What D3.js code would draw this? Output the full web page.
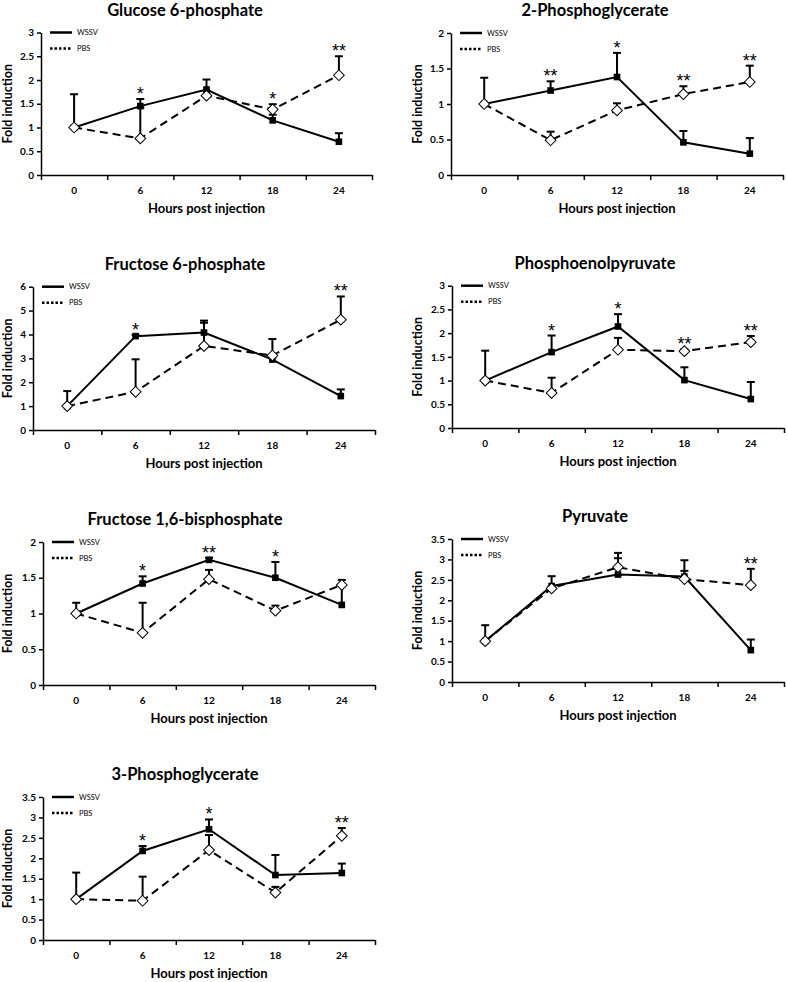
<!DOCTYPE html>
<html>
<head>
<meta charset="utf-8">
<script src="https://cdn.jsdelivr.net/npm/d3@7"></script>
<style>
  body { margin: 0; background: #fff; }
  svg { display: block; }
  text { font-family: Lato, "Open Sans", sans-serif; fill: #000; }
</style>
</head>
<body>
<svg id="chart" width="787" height="982"></svg>
<script>
// sampling times (hours post injection)
const hours = [0, 6, 12, 18, 24];

// Glucose 6-phosphate
const g6pWssv = [1.0, 1.45, 1.8, 1.15, 0.7];
const g6pWssvSd = [0.7, 0.15, 0.21, 0.12, 0.18];
const g6pPbs = [1.0, 0.77, 1.67, 1.38, 2.1];
const g6pPbsSd = [0, 0.65, 0.1, 0.11, 0.4];
const g6pStars = ['', '*', '', '*', '**'];

// 2-Phosphoglycerate
const pg2Wssv = [1.0, 1.19, 1.38, 0.46, 0.3];
const pg2WssvSd = [0.37, 0.13, 0.34, 0.16, 0.22];
const pg2Pbs = [1.0, 0.49, 0.91, 1.14, 1.31];
const pg2PbsSd = [0, 0.12, 0.1, 0.11, 0.23];
const pg2Stars = ['', '**', '*', '**', '**'];

// Fructose 6-phosphate
const f6pWssv = [1.0, 3.93, 4.08, 2.95, 1.42];
const f6pWssvSd = [0.63, 0.05, 0.5, 0.1, 0.28];
const f6pPbs = [1.0, 1.6, 3.52, 3.12, 4.62];
const f6pPbsSd = [0, 1.36, 0.97, 0.69, 0.97];
const f6pStars = ['', '*', '', '', '**'];

// Phosphoenolpyruvate
const pepWssv = [1.0, 1.6, 2.14, 1.01, 0.61];
const pepWssvSd = [0.63, 0.35, 0.26, 0.27, 0.36];
const pepPbs = [1.0, 0.74, 1.65, 1.62, 1.81];
const pepPbsSd = [0, 0.32, 0.25, 0.04, 0.13];
const pepStars = ['', '*', '*', '**', '**'];

// Fructose 1,6-bisphosphate
const fbpWssv = [1.0, 1.42, 1.75, 1.5, 1.12];
const fbpWssvSd = [0.15, 0.1, 0.03, 0.22, 0.28];
const fbpPbs = [1.0, 0.73, 1.48, 1.04, 1.4];
const fbpPbsSd = [0, 0.42, 0.13, 0.07, 0.07];
const fbpStars = ['', '*', '**', '*', ''];

// Pyruvate
const pyrWssv = [1.0, 2.35, 2.63, 2.58, 0.78];
const pyrWssvSd = [0.39, 0.24, 0.4, 0.4, 0.26];
const pyrPbs = [1.0, 2.29, 2.81, 2.52, 2.37];
const pyrPbsSd = [0, 0.05, 0.35, 0.2, 0.4];
const pyrStars = ['', '', '', '', '**'];

// 3-Phosphoglycerate
const pg3Wssv = [1.0, 2.18, 2.71, 1.59, 1.64];
const pg3WssvSd = [0.65, 0.12, 0.24, 0.49, 0.23];
const pg3Pbs = [1.0, 0.96, 2.2, 1.16, 2.55];
const pg3PbsSd = [0, 0.59, 0.37, 0.14, 0.19];
const pg3Stars = ['', '*', '*', '', '**'];

// panel layout (pixel boxes of each plot area)
const panels = [
  { title: 'Glucose 6-phosphate', wssv: g6pWssv, wssvSd: g6pWssvSd, pbs: g6pPbs, pbsSd: g6pPbsSd, stars: g6pStars,
    yMax: 3, yStep: 0.5, left: 41, right: 372, top: 32.5, bottom: 175, col: 0 },
  { title: '2-Phosphoglycerate', wssv: pg2Wssv, wssvSd: pg2WssvSd, pbs: pg2Pbs, pbsSd: pg2PbsSd, stars: pg2Stars,
    yMax: 2, yStep: 0.5, left: 451, right: 783, top: 33, bottom: 175, col: 1 },
  { title: 'Fructose 6-phosphate', wssv: f6pWssv, wssvSd: f6pWssvSd, pbs: f6pPbs, pbsSd: f6pPbsSd, stars: f6pStars,
    yMax: 6, yStep: 1, left: 33, right: 375, top: 286.7, bottom: 430, col: 0 },
  { title: 'Phosphoenolpyruvate', wssv: pepWssv, wssvSd: pepWssvSd, pbs: pepPbs, pbsSd: pepPbsSd, stars: pepStars,
    yMax: 3, yStep: 0.5, left: 452, right: 784, top: 285.7, bottom: 428, col: 1 },
  { title: 'Fructose 1,6-bisphosphate', wssv: fbpWssv, wssvSd: fbpWssvSd, pbs: fbpPbs, pbsSd: fbpPbsSd, stars: fbpStars,
    yMax: 2, yStep: 0.5, left: 43, right: 375, top: 542, bottom: 685, col: 0 },
  { title: 'Pyruvate', wssv: pyrWssv, wssvSd: pyrWssvSd, pbs: pyrPbs, pbsSd: pyrPbsSd, stars: pyrStars,
    yMax: 3.5, yStep: 0.5, left: 452, right: 784, top: 539, bottom: 682, col: 1 },
  { title: '3-Phosphoglycerate', wssv: pg3Wssv, wssvSd: pg3WssvSd, pbs: pg3Pbs, pbsSd: pg3PbsSd, stars: pg3Stars,
    yMax: 3.5, yStep: 0.5, left: 43, right: 375, top: 797, bottom: 940, col: 0 }
];

const titleX = [185, 595];
const yLabelX = [7.5, 417.5];

const svg = d3.select('#chart');

function drawPanel(p) {
  const g = svg.append('g');

  const x = d3.scaleBand().domain(hours).range([p.left, p.right]);
  const edge = d3.scaleLinear().domain([0, hours.length]).range([p.left, p.right]);
  const y = d3.scaleLinear().domain([0, p.yMax]).range([p.bottom, p.top]);
  const cx = h => x(h) + x.bandwidth() / 2;

  // title
  g.append('text')
    .attr('x', titleX[p.col]).attr('y', p.top - 17)
    .attr('text-anchor', 'middle')
    .style('font-size', '16.5px').style('font-weight', 'bold')
    .text(p.title);

  // y axis
  const yAxis = g.append('g')
    .attr('transform', `translate(${p.left},0)`)
    .call(d3.axisLeft(y)
      .tickValues(d3.range(0, p.yMax + 1e-9, p.yStep))
      .tickFormat(d3.format(''))
      .tickSize(4).tickSizeOuter(0).tickPadding(3));
  yAxis.selectAll('text').style('font-size', '10px').style('font-weight', 'bold');

  // x axis: tick marks between categories
  g.append('g')
    .attr('transform', `translate(0,${p.bottom})`)
    .call(d3.axisBottom(edge)
      .tickValues(d3.range(0, hours.length + 1))
      .tickFormat('')
      .tickSize(5).tickSizeOuter(0));

  // x category labels
  const xAxis = g.append('g')
    .attr('transform', `translate(0,${p.bottom})`)
    .call(d3.axisBottom(x).tickSize(0));
  xAxis.select('.domain').remove();
  xAxis.selectAll('text')
    .attr('y', 19).attr('dy', null)
    .style('font-size', '10px').style('font-weight', 'bold');

  g.selectAll('.domain, .tick line').attr('stroke', '#000').attr('stroke-width', 1.5);

  // axis titles
  g.append('text')
    .attr('x', (p.left + p.right) / 2).attr('y', p.bottom + 38)
    .attr('text-anchor', 'middle')
    .style('font-size', '13px').style('font-weight', 'bold')
    .text('Hours post injection');

  g.append('text')
    .attr('transform', `translate(${yLabelX[p.col]},${(p.top + p.bottom) / 2}) rotate(-90)`)
    .attr('text-anchor', 'middle').attr('dy', '0.35em')
    .style('font-size', '12.5px').style('font-weight', 'bold')
    .text('Fold induction');

  // legend
  const lg = g.append('g');
  lg.append('line')
    .attr('x1', p.left + 9).attr('x2', p.left + 31)
    .attr('y1', p.top).attr('y2', p.top)
    .attr('stroke', '#000').attr('stroke-width', 2.5);
  lg.append('line')
    .attr('x1', p.left + 9).attr('x2', p.left + 31)
    .attr('y1', p.top + 16).attr('y2', p.top + 16)
    .attr('stroke', '#000').attr('stroke-width', 2.5)
    .attr('stroke-dasharray', '2.5,2');
  lg.append('text')
    .attr('x', p.left + 36).attr('y', p.top).attr('dy', '0.35em')
    .style('font-size', '7.5px')
    .text('WSSV');
  lg.append('text')
    .attr('x', p.left + 36).attr('y', p.top + 16).attr('dy', '0.35em')
    .style('font-size', '7.5px')
    .text('PBS');

  const series = [
    { values: p.wssv, sd: p.wssvSd, dash: null, marker: 'square' },
    { values: p.pbs, sd: p.pbsSd, dash: '8,5', marker: 'diamond' }
  ];

  const line = d3.line()
    .x((d, i) => cx(hours[i]))
    .y(d => y(d));

  series.forEach(s => {
    // error bars (upper only)
    const eb = g.append('g');
    s.values.forEach((v, i) => {
      if (!s.sd[i]) return;
      const xx = cx(hours[i]);
      eb.append('line')
        .attr('x1', xx).attr('x2', xx)
        .attr('y1', y(v)).attr('y2', y(v + s.sd[i]))
        .attr('stroke', '#000').attr('stroke-width', 2);
      eb.append('line')
        .attr('x1', xx - 4).attr('x2', xx + 4)
        .attr('y1', y(v + s.sd[i])).attr('y2', y(v + s.sd[i]))
        .attr('stroke', '#000').attr('stroke-width', 2);
    });

    g.append('path')
      .datum(s.values)
      .attr('d', line)
      .attr('fill', 'none')
      .attr('stroke', '#000')
      .attr('stroke-width', 2)
      .attr('stroke-dasharray', s.dash);

    const sym = s.marker === 'square'
      ? d3.symbol().type(d3.symbolSquare).size(44)
      : d3.symbol().type(d3.symbolSquare).size(58);

    g.selectAll(null)
      .data(s.values)
      .enter()
      .append('path')
      .attr('d', sym)
      .attr('transform', (d, i) => `translate(${cx(hours[i])},${y(d)})` + (s.marker === 'diamond' ? ' rotate(45)' : ''))
      .attr('fill', s.marker === 'square' ? '#000' : '#fff')
      .attr('stroke', '#000')
      .attr('stroke-width', s.marker === 'square' ? 0 : 1);
  });

  // significance asterisks above the highest bar
  const starData = p.stars
    .map((s, i) => ({ s: s, i: i, top: Math.max(p.wssv[i] + p.wssvSd[i], p.pbs[i] + p.pbsSd[i]) }))
    .filter(d => d.s);

  g.selectAll(null)
    .data(starData)
    .enter()
    .append('text')
    .attr('x', d => cx(hours[d.i]))
    .attr('y', d => y(d.top) + 1)
    .attr('text-anchor', 'middle')
    .style('font-family', '"Liberation Sans", Arial, sans-serif')
    .style('font-size', '18px')
    .style('fill', '#000')
    .text(d => d.s);
}

panels.forEach(drawPanel);
</script>
</body>
</html>
